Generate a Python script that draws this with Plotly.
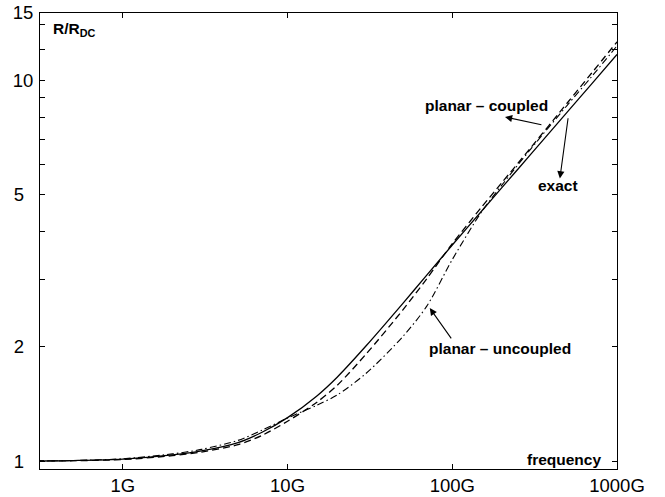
import numpy as np
import plotly.graph_objects as go

# frequency in GHz
freq = [0.3, 0.5, 1, 2, 3, 5, 7, 10, 15, 20, 30, 50, 70, 100, 150, 200, 300, 500, 700, 1000]
exact = [1.000, 1.003, 1.012, 1.038, 1.063, 1.118, 1.190, 1.300, 1.480, 1.660, 2.007, 2.590, 3.076,
         3.690, 4.520, 5.220, 6.390, 8.250, 9.760, 11.670]
coupled = [1.000, 1.002, 1.009, 1.033, 1.056, 1.104, 1.168, 1.272, 1.425, 1.580, 1.910, 2.490, 3.010,
           3.720, 4.630, 5.380, 6.650, 8.720, 10.420, 12.600]
uncoupled = [1.000, 1.003, 1.014, 1.044, 1.073, 1.133, 1.205, 1.297, 1.400, 1.490, 1.700, 2.120, 2.550,
             3.380, 4.500, 5.300, 6.600, 8.600, 10.200, 12.300]

xtick_vals = [1, 10, 100, 1000]
xtick_text = ["1G", "10G", "100G", "1000G"]
ytick_vals = [1, 2, 3, 4, 5, 6, 7, 8, 9, 10, 12, 14, 15]
ytick_text = ["1\u2002", "2\u2002", "", "", "5\u2002", "", "", "", "", "10", "", "", "15"]

# annotation arrows: (head_freq, head_val, tail_freq, tail_val)
arrow_coupled = (209, 8.0, 355, 7.62)
arrow_exact = (450, 5.52, 506, 8.01)
arrow_uncoupled = (73, 2.52, 100, 2.08)

fig = go.Figure()
fig.add_trace(go.Scatter(x=freq, y=exact, mode="lines",
                         line=dict(color="black", width=1.3, shape="spline", smoothing=0.8)))
fig.add_trace(go.Scatter(x=freq, y=coupled, mode="lines",
                         line=dict(color="black", width=1.3, dash="7px,4px", shape="spline", smoothing=0.8)))
fig.add_trace(go.Scatter(x=freq, y=uncoupled, mode="lines",
                         line=dict(color="black", width=1.1, dash="7px,3px,1.5px,3px", shape="spline", smoothing=0.8)))

for hf, hv, tf, tv in [arrow_coupled, arrow_exact, arrow_uncoupled]:
    fig.add_annotation(x=np.log10(hf), y=np.log10(hv), ax=np.log10(tf), ay=np.log10(tv),
                       xref="x", yref="y", axref="x", ayref="y", text="", showarrow=True,
                       arrowhead=2, arrowsize=1.3, arrowwidth=1.1, arrowcolor="black")

lab_font = dict(family="Liberation Sans, Arial, sans-serif", size=15.5, color="black")
fig.add_annotation(x=np.log10(162), y=np.log10(8.6), xref="x", yref="y", text="<b>planar – coupled</b>",
                   showarrow=False, font=lab_font)
fig.add_annotation(x=np.log10(438), y=np.log10(5.3), xref="x", yref="y", text="<b>exact</b>",
                   showarrow=False, font=lab_font)
fig.add_annotation(x=np.log10(195), y=np.log10(1.98), xref="x", yref="y", text="<b>planar – uncoupled</b>",
                   showarrow=False, font=lab_font)
fig.add_annotation(x=0.019, y=0.963, xref="paper", yref="paper", xanchor="left", yanchor="middle",
                   text="<b>R/R<sub>DC</sub></b>", showarrow=False, font=lab_font)
fig.add_annotation(x=0.976, y=0.02, xref="paper", yref="paper", xanchor="right", yanchor="middle",
                   text="<b>frequency</b>", showarrow=False, font=lab_font)

axis_common = dict(showline=True, linecolor="black", linewidth=1, mirror="ticks", ticks="inside",
                   ticklen=5, tickcolor="black", tickwidth=1, showgrid=False, zeroline=False,
                   automargin=False,
                   tickfont=dict(family="Liberation Sans, Arial, sans-serif", size=18.5, color="black"))
fig.update_xaxes(type="log", range=[np.log10(0.314), 3], tickvals=xtick_vals, ticktext=xtick_text,
                 ticklabelstandoff=0, **axis_common)
fig.update_yaxes(type="log", range=[np.log10(0.953), np.log10(15)], tickvals=ytick_vals, ticktext=ytick_text,
                 ticklabelstandoff=2, **axis_common)

fig.update_layout(width=665, height=497, margin=dict(l=40, r=48, t=13, b=28),
                  plot_bgcolor="white", paper_bgcolor="white", showlegend=False)

fig.write_html("out.html")
